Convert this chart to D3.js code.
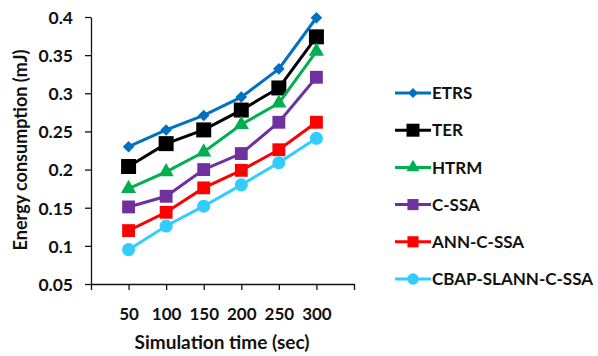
<!DOCTYPE html>
<html>
<head>
<meta charset="UTF-8" />
<script src="https://cdnjs.cloudflare.com/ajax/libs/d3/7.8.5/d3.min.js"></script>
<style>
  body { margin: 0; background: #fff; }
  text { font-family: Lato, "Open Sans", sans-serif; font-weight: bold; fill: #111; }
</style>
</head>
<body>
<div class="chart"></div>
<script>
  // data
  const times = [50, 100, 150, 200, 250, 300]
  const seriesNames = ['ETRS', 'TER', 'HTRM', 'C-SSA', 'ANN-C-SSA', 'CBAP-SLANN-C-SSA']
  const etrs = [0.23, 0.252, 0.271, 0.295, 0.332, 0.399]
  const ter = [0.204, 0.234, 0.252, 0.278, 0.307, 0.374]
  const htrm = [0.175, 0.197, 0.223, 0.259, 0.287, 0.355]
  const cssa = [0.151, 0.165, 0.2, 0.221, 0.262, 0.321]
  const annCssa = [0.12, 0.144, 0.176, 0.199, 0.226, 0.262]
  const cbap = [0.095, 0.126, 0.152, 0.18, 0.209, 0.241]
  const yTicks = [0.05, 0.1, 0.15, 0.2, 0.25, 0.3, 0.35, 0.4]
  const xTicks = [0, 50, 100, 150, 200, 250, 300, 350]

  const colors = ['#0070C0', '#000000', '#00B050', '#7030A0', '#FF0000', '#33CCFF']
  const shapes = [d3.symbolDiamond2, d3.symbolSquare, d3.symbolTriangle, d3.symbolSquare, d3.symbolSquare, d3.symbolCircle]
  const sizes = [85, 225, 100, 165, 165, 135]
  const allValues = [etrs, ter, htrm, cssa, annCssa, cbap]

  const width = 598, height = 356
  const svg = d3.select('.chart').append('svg').attr('width', width).attr('height', height)

  const x = d3.scaleLinear().domain([0, 350]).range([91, 354])
  const y = d3.scaleLinear().domain([0.05, 0.4]).range([284, 17])

  // x axis
  const xAxis = svg.append('g').attr('transform', 'translate(0,284)')
    .call(d3.axisBottom(x).tickValues(xTicks).tickSize(6).tickSizeOuter(0)
      .tickFormat(d => (d === 0 || d === 350) ? '' : d))
  xAxis.select('.domain').attr('stroke', '#111').attr('stroke-width', 1.3)
  xAxis.selectAll('line').attr('stroke', '#111').attr('stroke-width', 1.3)
  xAxis.selectAll('text').style('font-size', '17px').attr('dy', 0).attr('y', 36)

  // y axis
  const yAxis = svg.append('g').attr('transform', 'translate(91,0)')
    .call(d3.axisLeft(y).tickValues(yTicks).tickSize(6).tickSizeOuter(0)
      .tickFormat(d => d3.format('')(+d.toFixed(2))))
  yAxis.select('.domain').attr('stroke', '#111').attr('stroke-width', 1.3)
  yAxis.selectAll('line').attr('stroke', '#111').attr('stroke-width', 1.3)
  yAxis.selectAll('text').style('font-size', '17.5px').attr('x', -18).attr('dy', '0.36em')

  // axis titles
  svg.append('text').attr('x', 222).attr('y', 349).attr('text-anchor', 'middle')
    .style('font-size', '19px').text('Simulation time (sec)')
  svg.append('text').attr('transform', 'translate(27,150) rotate(-90)').attr('text-anchor', 'middle')
    .style('font-size', '18px').text('Energy consumption (mJ)')

  const line = d3.line().x((d, i) => x(times[i])).y(d => y(d))

  allValues.forEach((vals, s) => {
    svg.append('path').datum(vals).attr('d', line)
      .attr('fill', 'none').attr('stroke', colors[s]).attr('stroke-width', 3)
    svg.selectAll('.m' + s).data(vals).join('path')
      .attr('class', 'm' + s)
      .attr('transform', (d, i) => `translate(${x(times[i])},${y(d)})`)
      .attr('d', d3.symbol().type(shapes[s]).size(sizes[s]))
      .attr('fill', colors[s])
  })

  // legend
  const legend = svg.append('g')
  seriesNames.forEach((name, s) => {
    const ly = 93 + s * 37.2
    legend.append('line').attr('x1', 395).attr('x2', 431).attr('y1', ly).attr('y2', ly)
      .attr('stroke', colors[s]).attr('stroke-width', 3)
    legend.append('path').attr('transform', `translate(413,${ly})`)
      .attr('d', d3.symbol().type(shapes[s]).size(sizes[s] * 0.75)).attr('fill', colors[s])
    legend.append('text').attr('x', 432).attr('y', ly).attr('dy', '0.36em')
      .style('font-size', '17px').text(name)
  })
</script>
</body>
</html>
